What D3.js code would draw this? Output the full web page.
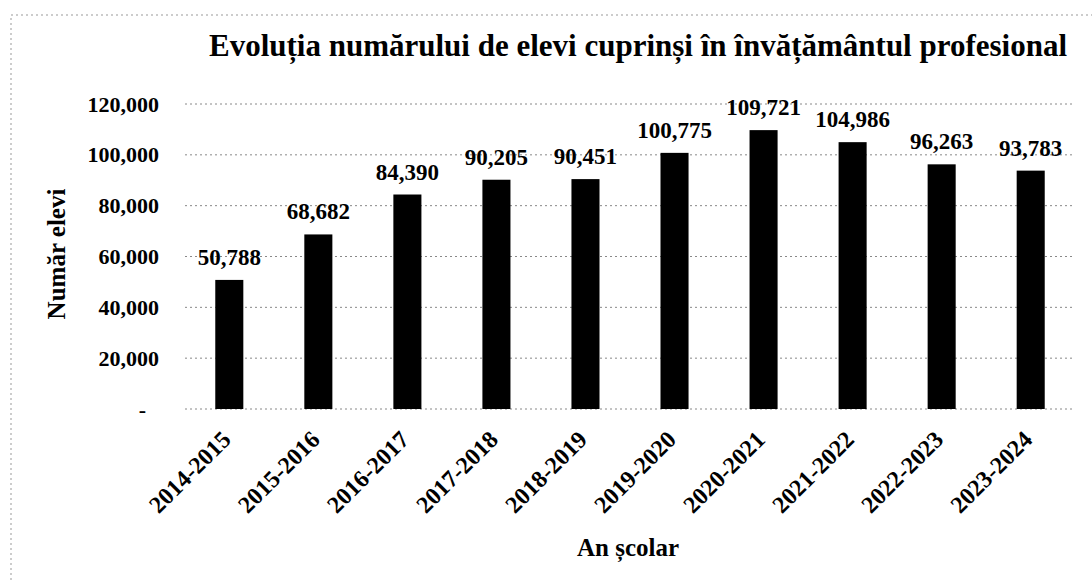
<!DOCTYPE html>
<html>
<head>
<meta charset="utf-8">
<script src="https://cdn.jsdelivr.net/npm/d3@7"></script>
<style>
  body { margin: 0; background: #fff; }
  text { font-family: "Liberation Serif", "Times New Roman", serif; font-weight: bold; fill: #000; }
</style>
</head>
<body>
<script>
const years = ['2014-2015', '2015-2016', '2016-2017', '2017-2018', '2018-2019',
    '2019-2020', '2020-2021', '2021-2022', '2022-2023', '2023-2024'];
const students = [50788, 68682, 84390, 90205, 90451, 100775, 109721, 104986, 96263, 93783];
const yTicks = [0, 20000, 40000, 60000, 80000, 100000, 120000];

const svgWidth = 1092;
const svgHeight = 583;
const margin = {left: 185, right: 17, top: 104, bottom: 174};
const width = svgWidth - margin.left - margin.right;
const height = svgHeight - margin.top - margin.bottom;

const svg = d3.select('body')
.append('svg')
.attr('width', svgWidth)
.attr('height', svgHeight)

// dotted frame of the chart area (only top and left visible in the scan)
svg.append('rect')
.attr('x', 11)
.attr('y', 15)
.attr('width', svgWidth + 20)
.attr('height', svgHeight + 20)
.attr('fill', 'none')
.attr('stroke', '#999')
.attr('stroke-dasharray', '2,3')

const g = svg.append('g')
.attr('transform', `translate(${margin.left}, ${margin.top})`)

const x = d3.scaleBand()
.domain(years)
.range([0, width])
.paddingInner(0.685)
.paddingOuter(0.34)

const y = d3.scaleLinear()
.domain([0, 120000])
.range([height, 0])

// gridlines
g.append('g')
.selectAll('line')
.data(yTicks)
.enter()
.append('line')
.attr('x1', 0)
.attr('x2', width)
.attr('y1', (d) => y(d))
.attr('y2', (d) => y(d))
.attr('stroke', '#888')
.attr('stroke-dasharray', '2,3')

// y axis labels
const yAxis = g.append('g')
.call(d3.axisLeft(y)
    .tickValues(yTicks)
    .tickSize(0)
    .tickPadding(26)
    .tickFormat((d) => d === 0 ? '-' : d3.format(',')(d)))
yAxis.select('.domain').remove()
yAxis.selectAll('text')
.attr('font-size', 22)
.attr('font-family', null)
.attr('dx', (d) => d === 0 ? -13 : 0)

// bars
g.append('g')
.selectAll('rect')
.data(students)
.enter()
.append('rect')
.attr('x', (d, i) => x(years[i]))
.attr('width', x.bandwidth())
.attr('y', (d) => y(d))
.attr('height', (d) => height - y(d))
.attr('fill', '#000')

// value labels
g.append('g')
.selectAll('text')
.data(students)
.enter()
.append('text')
.attr('x', (d, i) => x(years[i]) + x.bandwidth() / 2)
.attr('y', (d) => y(d) - 15)
.attr('text-anchor', 'middle')
.attr('font-size', 23)
.text((d) => d3.format(',')(d))

// x axis labels, rotated
const xAxis = g.append('g')
.attr('transform', `translate(0, ${height})`)
.call(d3.axisBottom(x).tickSize(0).tickPadding(0))
xAxis.select('.domain').remove()
xAxis.selectAll('text')
.attr('font-size', 24)
.attr('font-family', null)
.attr('text-anchor', 'end')
.attr('dy', null)
.attr('y', 0)
.attr('transform', 'translate(3, 32) rotate(-45)')

// titles
svg.append('text')
.attr('x', 638)
.attr('y', 56)
.attr('text-anchor', 'middle')
.attr('font-size', 31)
.text('Evoluția numărului de elevi cuprinși în învățământul profesional')

svg.append('text')
.attr('transform', 'translate(56, 254) rotate(-90)')
.attr('text-anchor', 'middle')
.attr('dy', '0.35em')
.attr('font-size', 25)
.text('Număr elevi')

svg.append('text')
.attr('x', 628)
.attr('y', 556)
.attr('text-anchor', 'middle')
.attr('font-size', 25)
.text('An școlar')
</script>
</body>
</html>
